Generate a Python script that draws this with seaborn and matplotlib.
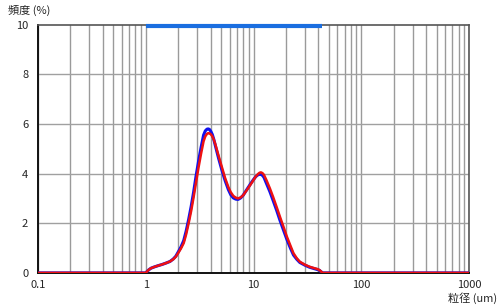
import matplotlib
matplotlib.use("Agg")
import matplotlib.pyplot as plt
import seaborn as sns
import pandas as pd
import numpy as np

sizes = [0.1, 1.0, 1.03, 1.07, 1.12, 1.2, 1.3, 1.42, 1.55, 1.68, 1.8, 1.9, 2.0, 2.12, 2.25,
         2.37, 2.5, 2.64, 2.78, 2.93, 3.09, 3.26, 3.44, 3.57, 3.7, 3.8, 3.9, 4.02, 4.15,
         4.28, 4.41, 4.74, 5.08, 5.45, 5.85, 6.15, 6.5, 6.85, 7.2, 7.6, 8.0, 8.65, 9.3,
         9.96, 10.5, 11.0, 11.35, 11.7, 12.1, 12.5, 13.2, 14.2, 15.2, 16.4, 17.6, 19.0,
         20.4, 22.0, 23.5, 25.2, 26.9, 30.0, 33.0, 36.0, 39.5, 41.0, 42.5, 44.0, 1000.0]
red_vals = [0, 0, 0.06, 0.13, 0.19, 0.24, 0.29, 0.34, 0.4, 0.46, 0.55, 0.65, 0.8, 0.98, 1.2,
            1.55, 2.0, 2.5, 3.05, 3.65, 4.25, 4.8, 5.3, 5.5, 5.6, 5.63, 5.62, 5.58, 5.5,
            5.37, 5.2, 4.72, 4.27, 3.82, 3.45, 3.25, 3.1, 3.03, 3.0, 3.04, 3.12, 3.33, 3.53,
            3.73, 3.88, 3.98, 4.03, 4.05, 4.02, 3.95, 3.73, 3.4, 3.06, 2.65, 2.26, 1.85,
            1.46, 1.1, 0.79, 0.59, 0.45, 0.33, 0.25, 0.2, 0.15, 0.11, 0.05, 0, 0]
blue_vals = [0, 0, 0.06, 0.13, 0.19, 0.24, 0.29, 0.34, 0.4, 0.46, 0.56, 0.67, 0.84, 1.04, 1.3,
             1.68, 2.15, 2.68, 3.25, 3.9, 4.5, 5.05, 5.55, 5.72, 5.79, 5.8, 5.78, 5.7, 5.57,
             5.38, 5.15, 4.62, 4.15, 3.72, 3.35, 3.15, 3.02, 2.97, 2.96, 3.02, 3.12, 3.35, 3.56,
             3.75, 3.88, 3.95, 3.97, 3.97, 3.93, 3.85, 3.6, 3.27, 2.92, 2.52, 2.12, 1.72,
             1.35, 1.0, 0.72, 0.55, 0.42, 0.31, 0.23, 0.18, 0.13, 0.1, 0.04, 0, 0]
range_bar = [1.0, 43.0]
x_ticks = [0.1, 1, 10, 100, 1000]
x_labels = ["0.1", "1", "10", "100", "1000"]
y_ticks = [0, 2, 4, 6, 8, 10]

sns.set_theme(style="white")
plt.rcParams['font.family'] = ['Noto Sans CJK JP', 'DejaVu Sans']

fig = plt.figure(figsize=(5.0, 3.08), dpi=100)
ax = fig.add_axes([0.076, 0.114, 0.862, 0.806])

df = pd.DataFrame({"size": sizes, "red": red_vals, "blue": blue_vals})

ax.set_xscale("log")
ax.set_xlim(0.1, 1000)
ax.set_ylim(0, 10)

# grid
minor = [m * 10.0 ** e for e in range(-1, 3) for m in range(1, 10)] + [1000]
for v in minor:
    ax.axvline(v, color="#9a9a9a", lw=1.0, zorder=1)
for v in y_ticks[1:-1]:
    ax.axhline(v, color="#a0a0a0", lw=1.0, zorder=1)

sns.lineplot(data=df, x="size", y="blue", ax=ax, color="#1010ee", lw=2.2, zorder=3)
sns.lineplot(data=df, x="size", y="red", ax=ax, color="#ee1111", lw=1.8, zorder=4)

ax.plot(range_bar, [9.93, 9.93], color="#1a6ee0", lw=3, solid_capstyle="butt", zorder=5,
        clip_on=False)

ax.set_xticks(x_ticks)
ax.set_xticklabels(x_labels)
ax.set_yticks(y_ticks)
ax.minorticks_off()
ax.tick_params(axis="x", length=0, labelsize=8, pad=5)
ax.tick_params(axis="y", length=0, labelsize=8, pad=7)
ax.set_xlabel("")
ax.set_ylabel("")

for s in ["left", "bottom"]:
    ax.spines[s].set_color("#111111")
    ax.spines[s].set_linewidth(1.4)
for s in ["top", "right"]:
    ax.spines[s].set_color("#555555")
    ax.spines[s].set_linewidth(1.2)

fig.text(0.016, 0.965, "頻度 (%)", fontsize=8, ha="left", va="center")
fig.text(0.994, 0.032, "粒径 (um)", fontsize=8, ha="right", va="center")

fig.savefig("out.png", dpi=100)
